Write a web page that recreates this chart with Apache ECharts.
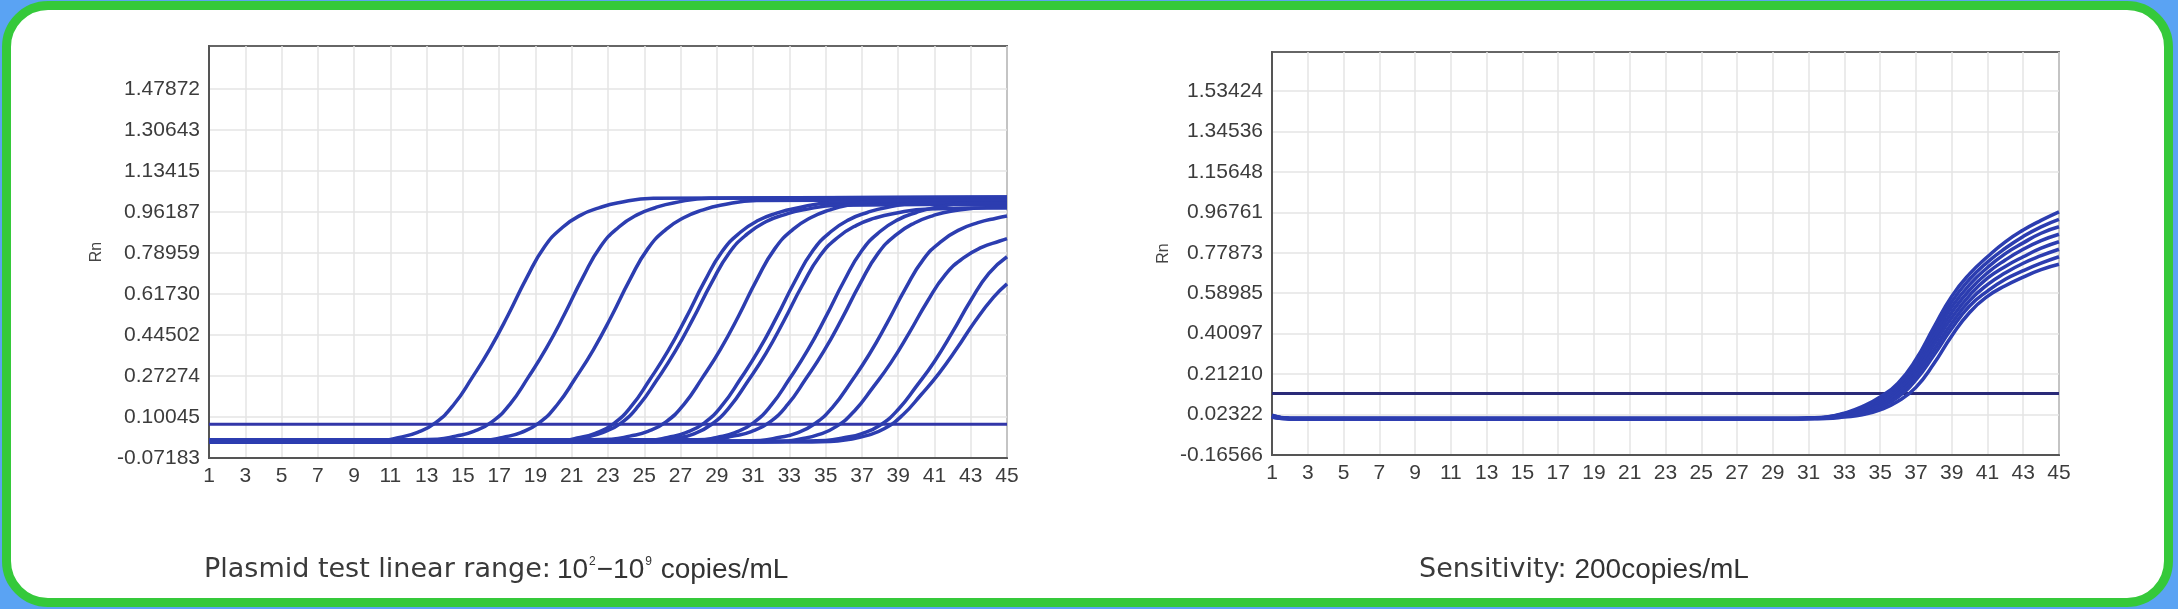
<!DOCTYPE html>
<html><head><meta charset="utf-8">
<script src="https://cdn.jsdelivr.net/npm/echarts@6/dist/echarts.min.js"></script>
<style>
html,body{margin:0;padding:0;background:#5aa3f3;width:2178px;height:609px;overflow:hidden;}
#frame{position:absolute;left:2px;top:1px;width:2171px;height:606px;box-sizing:border-box;border:9px solid #35c93a;border-radius:46px;background:#fff;}
#c{position:absolute;left:0;top:0;width:2178px;height:609px;}
</style>
</head><body><div id="frame"></div><div id="c"></div>
<script>
// ---- tick labels ----
const cycleTicks = [1,3,5,7,9,11,13,15,17,19,21,23,25,27,29,31,33,35,37,39,41,43,45];
const leftYLabels = ['-0.07183','0.10045','0.27274','0.44502','0.61730','0.78959','0.96187','1.13415','1.30643','1.47872'];
const rightYLabels = ['-0.16566','0.02322','0.21210','0.40097','0.58985','0.77873','0.96761','1.15648','1.34536','1.53424'];
const leftCaption = ['Plasmid test linear range:', '10', '2', '−10', '9', ' copies/mL'];
const rightCaption = ['Sensitivity:', ' 200copies/mL'];

// ---- thresholds ----
const leftThreshold = [[1,0.07],[45,0.07]];
const rightThreshold = [[1,0.122],[45,0.122]];

// ---- left chart: plasmid dilution amplification curves [cycle, Rn] ----
const L1 = [[1,0],[9.5,0],[10.5,0.002],[11.5,0.015],[12.5,0.036],[13.5,0.077],[14.5,0.153],[15.5,0.265],[16.5,0.388],[17.5,0.530],[18.5,0.683],[19.5,0.816],[20.5,0.898],[21.5,0.949],[22.5,0.979],[23.5,1.0],[25.5,1.02],[45,1.025]];
const L2 = [[1,0.005],[12.6,0.005],[13.6,0.007],[14.6,0.02],[15.6,0.04],[16.6,0.08],[17.6,0.155],[18.6,0.267],[19.6,0.39],[20.6,0.532],[21.6,0.685],[22.6,0.818],[23.6,0.899],[24.6,0.95],[25.6,0.98],[26.6,1.0],[28.6,1.02],[45,1.025]];
const L3 = [[1,0],[15.2,0],[16.2,0.002],[17.2,0.015],[18.2,0.035],[19.2,0.076],[20.2,0.152],[21.2,0.263],[22.2,0.384],[23.2,0.525],[24.2,0.677],[25.2,0.808],[26.2,0.889],[27.2,0.939],[28.2,0.97],[29.2,0.99],[31.2,1.01],[45,1.015]];
const L4 = [[1,-0.005],[19.3,-0.005],[20.3,-0.002],[21.3,0.012],[22.3,0.032],[23.3,0.072],[24.3,0.147],[25.3,0.257],[26.3,0.377],[27.3,0.517],[28.3,0.667],[29.3,0.797],[30.3,0.877],[31.3,0.927],[32.3,0.957],[33.3,0.977],[35.3,1.0],[45,1.005]];
const L5 = [[1,0],[19.7,0],[20.7,0.002],[21.7,0.015],[22.7,0.035],[23.7,0.074],[24.7,0.149],[25.7,0.257],[26.7,0.376],[27.7,0.515],[28.7,0.663],[29.7,0.792],[30.7,0.871],[31.7,0.921],[32.7,0.95],[33.7,0.97],[35.7,0.99],[45,0.995]];
const L6 = [[1,0.005],[22.2,0.005],[23.2,0.007],[24.2,0.02],[25.2,0.04],[26.2,0.08],[27.2,0.155],[28.2,0.265],[29.2,0.385],[30.2,0.525],[31.2,0.677],[32.2,0.808],[33.2,0.889],[34.2,0.939],[35.2,0.97],[36.2,0.99],[38.2,1.01],[45,1.012]];
const L7 = [[1,0],[24.3,0],[25.3,0.002],[26.3,0.015],[27.3,0.035],[28.3,0.075],[29.3,0.15],[30.3,0.26],[31.3,0.38],[32.3,0.52],[33.3,0.67],[34.3,0.80],[35.3,0.88],[36.3,0.93],[37.3,0.96],[38.3,0.98],[40.3,1.0],[45,1.0]];
const L8 = [[1,-0.005],[24.7,-0.005],[25.7,-0.003],[26.7,0.01],[27.7,0.029],[28.7,0.069],[29.7,0.142],[30.7,0.25],[31.7,0.367],[32.7,0.505],[33.7,0.652],[34.7,0.779],[35.7,0.857],[36.7,0.906],[37.7,0.936],[38.7,0.955],[40.7,0.975],[45,0.98]];
const L9 = [[1,0],[27,0],[28,0.002],[29,0.015],[30,0.035],[31,0.075],[32,0.15],[33,0.26],[34,0.38],[35,0.52],[36,0.67],[37,0.80],[38,0.88],[39,0.93],[40,0.96],[41,0.98],[43,1.0],[45,1.0]];
const L10 = [[1,0.005],[27.9,0.005],[28.9,0.007],[29.9,0.02],[30.9,0.039],[31.9,0.078],[32.9,0.152],[33.9,0.26],[34.9,0.377],[35.9,0.514],[36.9,0.661],[37.9,0.789],[38.9,0.867],[39.9,0.916],[40.9,0.946],[41.9,0.965],[43.9,0.98],[45,0.98]];
const L11 = [[1,0],[30.4,0],[31.4,0.002],[32.4,0.014],[33.4,0.033],[34.4,0.072],[35.4,0.143],[36.4,0.248],[37.4,0.363],[38.4,0.497],[39.4,0.64],[40.4,0.764],[41.4,0.84],[42.4,0.888],[43.4,0.917],[44.4,0.936],[45,0.945]];
const L12 = [[1,-0.005],[31.6,-0.005],[32.6,-0.003],[33.6,0.008],[34.6,0.026],[35.6,0.061],[36.6,0.127],[37.6,0.224],[38.6,0.329],[39.6,0.453],[40.6,0.585],[41.6,0.699],[42.6,0.769],[43.6,0.813],[44.6,0.84],[45,0.85]];
const L13 = [[1,0],[34,0],[35,0.002],[36,0.013],[37,0.031],[38,0.066],[39,0.132],[40,0.229],[41,0.334],[42,0.458],[43,0.59],[44,0.704],[45,0.774]];
const L14 = [[1,-0.005],[34.25,-0.005],[35.25,-0.003],[36.25,0.006],[37.25,0.022],[38.25,0.052],[39.25,0.109],[40.25,0.193],[41.25,0.284],[42.25,0.39],[43.25,0.504],[44.25,0.603],[45,0.66]];

// ---- right chart: sensitivity replicate curves [cycle, Rn] ----
const R1 = [[1,0.018],[2,0.006],[30,0.005],[31,0.007],[32,0.012],[33,0.03],[34,0.06],[35,0.105],[36,0.17],[37,0.28],[38,0.43],[39,0.575],[40,0.68],[41,0.76],[42,0.83],[43,0.885],[44,0.93],[45,0.97]];
const R2 = [[1,0.015],[2,0.005],[30,0.005],[31,0.006],[32,0.011],[33,0.027],[34,0.055],[35,0.097],[36,0.16],[37,0.265],[38,0.41],[39,0.55],[40,0.655],[41,0.735],[42,0.80],[43,0.855],[44,0.90],[45,0.935]];
const R3 = [[1,0.02],[2,0.004],[30,0.004],[31,0.006],[32,0.01],[33,0.025],[34,0.05],[35,0.09],[36,0.15],[37,0.25],[38,0.39],[39,0.525],[40,0.63],[41,0.71],[42,0.775],[43,0.825],[44,0.87],[45,0.90]];
const R4 = [[1,0.012],[2,0.003],[30,0.003],[31,0.005],[32,0.009],[33,0.022],[34,0.045],[35,0.082],[36,0.14],[37,0.235],[38,0.37],[39,0.50],[40,0.605],[41,0.685],[42,0.745],[43,0.795],[44,0.835],[45,0.865]];
const R5 = [[1,0.016],[2,0.006],[30,0.006],[31,0.007],[32,0.008],[33,0.02],[34,0.04],[35,0.074],[36,0.13],[37,0.22],[38,0.35],[39,0.475],[40,0.58],[41,0.66],[42,0.715],[43,0.76],[44,0.80],[45,0.83]];
const R6 = [[1,0.01],[2,0.004],[30,0.004],[31,0.005],[32,0.007],[33,0.018],[34,0.035],[35,0.066],[36,0.12],[37,0.205],[38,0.325],[39,0.45],[40,0.555],[41,0.63],[42,0.685],[43,0.73],[44,0.765],[45,0.795]];
const R7 = [[1,0.014],[2,0.005],[30,0.005],[31,0.005],[32,0.006],[33,0.016],[34,0.03],[35,0.058],[36,0.105],[37,0.185],[38,0.30],[39,0.425],[40,0.53],[41,0.60],[42,0.655],[43,0.695],[44,0.73],[45,0.76]];
const R8 = [[1,0.012],[2,0.004],[30,0.004],[31,0.004],[32,0.005],[33,0.012],[34,0.022],[35,0.045],[36,0.085],[37,0.15],[38,0.26],[39,0.39],[40,0.50],[41,0.575],[42,0.625],[43,0.665],[44,0.70],[45,0.725]];

const leftCurves = [L1,L2,L3,L4,L5,L6,L7,L8,L9,L10,L11,L12,L13,L14];
const rightCurves = [R1,R2,R3,R4,R5,R6,R7,R8];

const CURVE = '#2c3db0';
const TH_LEFT = '#3236a8';
const TH_RIGHT = '#2a2a78';
const LABEL = '#3c3c3c';
const FONT = "'Liberation Sans', Arial, sans-serif";

function nearestLabel(labels){
  return function(v){
    let best = labels[0], bd = Infinity;
    for (const s of labels){ const d = Math.abs(Number(s)-v); if (d<bd){bd=d;best=s;} }
    return best;
  };
}
function xAxisCfg(gi){
  return {
    gridIndex: gi, type:'value', min:1, max:45,
    axisLine:{show:true, onZero:false, lineStyle:{color:'#555', width:2}},
    axisTick:{show:false, customValues: cycleTicks},
    axisLabel:{customValues: cycleTicks, color:LABEL, fontSize:21, fontFamily:FONT, margin:8, showMinLabel:true, showMaxLabel:true},
    splitLine:{show:true, lineStyle:{color:'#e4e4e4', width:1.5}}
  };
}
function yAxisCfg(gi, labels, min, max, gap){
  const vals = labels.map(Number);
  return {
    gridIndex: gi, type:'value', min:min, max:max,
    name:'Rn', nameLocation:'middle', nameRotate:90, nameGap:gap,
    nameTextStyle:{color:'#444', fontSize:16, fontFamily:FONT},
    axisLine:{show:true, lineStyle:{color:'#555', width:2}},
    axisTick:{show:false, customValues: vals},
    axisLabel:{customValues: vals, formatter: nearestLabel(labels), color:LABEL, fontSize:21, fontFamily:FONT, margin:9},
    splitLine:{show:true, lineStyle:{color:'#e4e4e4', width:1.5}}
  };
}
function curveSeries(data, gi){
  return {type:'line', xAxisIndex:gi, yAxisIndex:gi, data:data, smooth:0.5,
    symbol:'none', clip:true, lineStyle:{color:CURVE, width:3.5}, silent:true, animation:false};
}

const series = [];
series.push({type:'line', xAxisIndex:0, yAxisIndex:0, data:leftThreshold, symbol:'none', lineStyle:{color:TH_LEFT, width:3}, animation:false, z:3});
leftCurves.forEach(c => series.push(curveSeries(c,0)));
series.push({type:'line', xAxisIndex:1, yAxisIndex:1, data:rightThreshold, symbol:'none', lineStyle:{color:TH_RIGHT, width:3}, animation:false, z:3});
rightCurves.forEach(c => series.push(curveSeries(c,1)));

const chart = echarts.init(document.getElementById('c'), null, {renderer:'canvas'});
chart.setOption({
  animation:false,
  backgroundColor:'transparent',
  grid:[
    {left:209, top:46, width:798, height:412, show:true, borderColor:'#666', borderWidth:2, backgroundColor:'transparent'},
    {left:1272, top:52, width:787, height:403, show:true, borderColor:'#666', borderWidth:2, backgroundColor:'transparent'}
  ],
  xAxis:[xAxisCfg(0), xAxisCfg(1)],
  yAxis:[
    yAxisCfg(0, leftYLabels, -0.07183, 1.6596, 104),
    yAxisCfg(1, rightYLabels, -0.16566, 1.7163, 100)
  ],
  title:[
    {left:199, top:547, text:'{a|'+leftCaption[0]+'}{b|'+leftCaption[1]+'}{s|'+leftCaption[2]+'}{b|'+leftCaption[3]+'}{s|'+leftCaption[4]+'}{b|'+leftCaption[5]+'}',
     textStyle:{fontWeight:'normal', rich:{
       a:{fontFamily:"'DejaVu Sans', sans-serif", fontWeight:'normal', fontSize:27, color:'#3a3a3a', lineHeight:36, padding:[0,6,0,0]},
       b:{fontFamily:FONT, fontWeight:'normal', fontSize:28, color:'#333', lineHeight:36},
       s:{fontFamily:FONT, fontWeight:'normal', fontSize:12, color:'#333', lineHeight:36, padding:[0,1,16,1]}
     }}},
    {left:1414, top:547, text:'{a|'+rightCaption[0]+'}{b|'+rightCaption[1]+'}',
     textStyle:{fontWeight:'normal', rich:{
       a:{fontFamily:"'DejaVu Sans', sans-serif", fontWeight:'normal', fontSize:27, color:'#3a3a3a', lineHeight:36},
       b:{fontFamily:FONT, fontWeight:'normal', fontSize:28, color:'#333', lineHeight:36}
     }}}
  ],
  series: series
});
</script>
</body></html>
